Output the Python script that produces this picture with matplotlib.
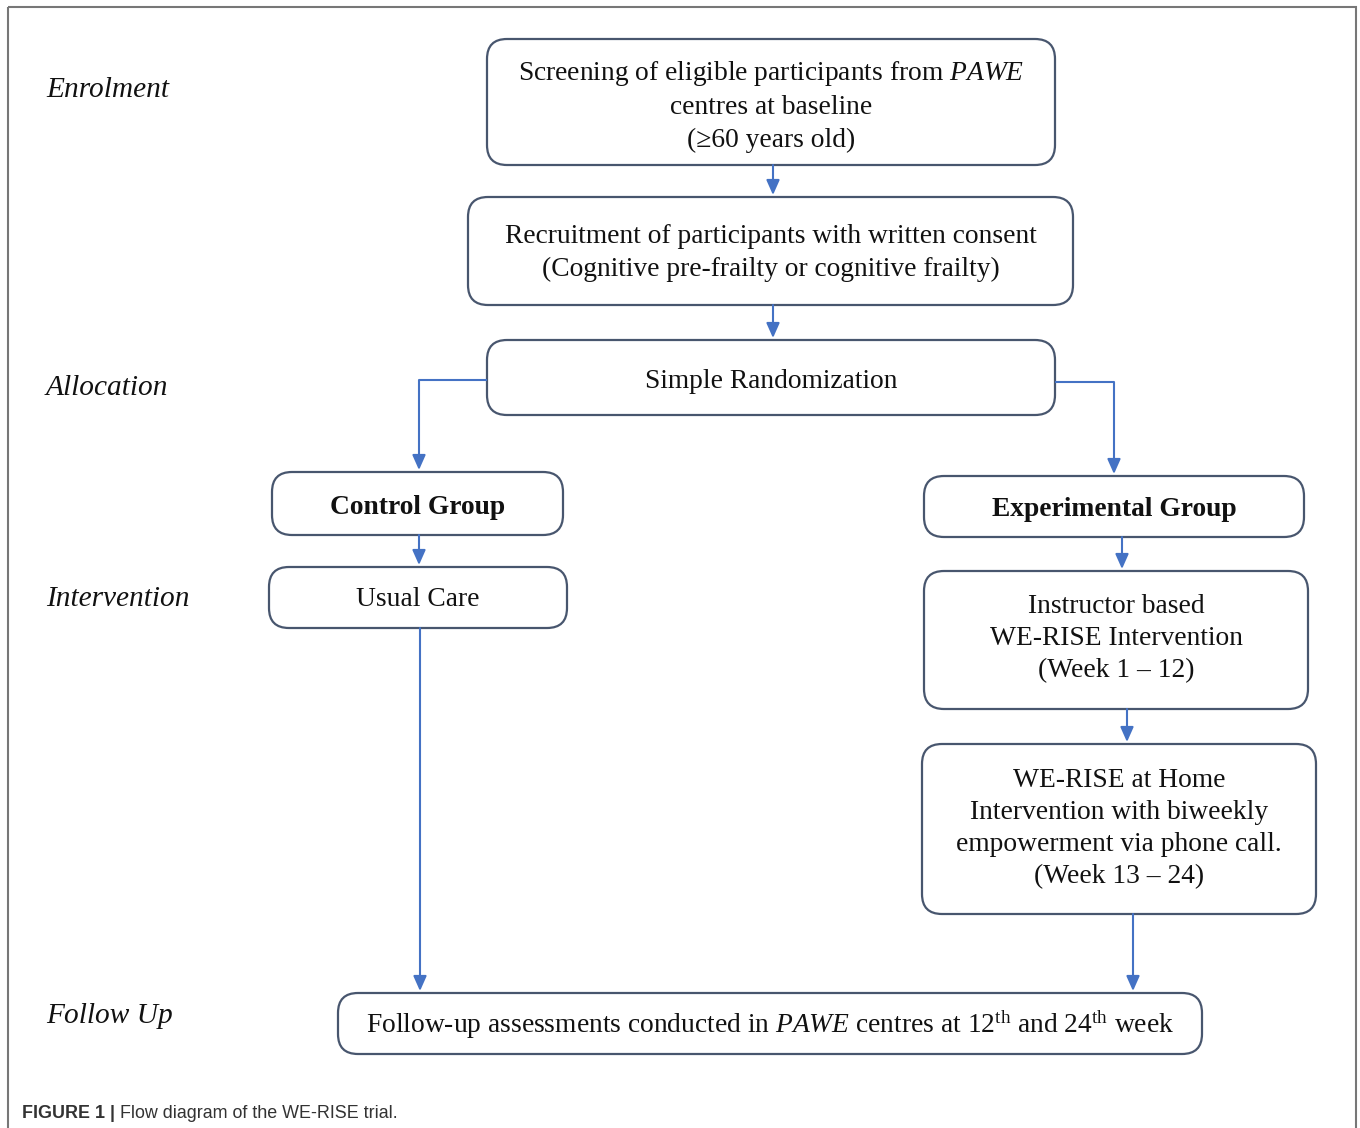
import matplotlib
matplotlib.use('Agg')
import matplotlib.pyplot as plt
from matplotlib.patches import FancyBboxPatch, Rectangle

plt.rcParams['font.family'] = ['Liberation Serif', 'DejaVu Serif']
plt.rcParams['mathtext.fontset'] = 'custom'
plt.rcParams['mathtext.rm'] = 'Liberation Serif'
plt.rcParams['mathtext.it'] = 'Liberation Serif:italic'
plt.rcParams['mathtext.bf'] = 'Liberation Serif:bold'

# stage labels on the left
stages = ['Enrolment', 'Allocation', 'Intervention', 'Follow Up']
stage_y = [90, 388, 599, 1016]

# box texts
box_texts = [
    'Screening of eligible participants from $\\mathit{PAWE}$\ncentres at baseline\n(\u226560 years old)',
    'Recruitment of participants with written consent\n(Cognitive pre-frailty or cognitive frailty)',
    'Simple Randomization',
    'Control Group',
    'Experimental Group',
    'Usual Care',
    'Instructor based\nWE-RISE Intervention\n(Week 1 \u2013 12)',
    'WE-RISE at Home\nIntervention with biweekly\nempowerment via phone call.\n(Week 13 \u2013 24)',
    'Follow-up assessments conducted in $\\mathit{PAWE}$ centres at 12$^{\\rm th}$ and 24$^{\\rm th}$ week',
]
box_bold = [False, False, False, True, True, False, False, False, False]
# x0, x1, y0, y1 in pixels
box_pos = [
    (487, 1055, 39, 165),
    (468, 1073, 197, 305),
    (487, 1055, 340, 415),
    (272, 563, 472, 535),
    (924, 1304, 476, 537),
    (269, 567, 567, 628),
    (924, 1308, 571, 709),
    (922, 1316, 744, 914),
    (338, 1202, 993, 1054),
]
box_text_y = [106, 253, 381, 508, 510, 600, 639, 829, 1025]

# connectors: list of polyline points, last segment gets an arrow head
arrows = [
    [(773, 165), (773, 195)],
    [(773, 305), (773, 338)],
    [(487, 380), (419, 380), (419, 470)],
    [(1055, 382), (1114, 382), (1114, 474)],
    [(419, 535), (419, 565)],
    [(1122, 537), (1122, 569)],
    [(1127, 709), (1127, 742)],
    [(420, 628), (420, 991)],
    [(1133, 914), (1133, 991)],
]

caption_bold = 'FIGURE 1 |'
caption_rest = ' Flow diagram of the WE-RISE trial.'

W, H = 1360, 1128
fig = plt.figure(figsize=(W / 100, H / 100), dpi=100)
ax = fig.add_axes([0, 0, 1, 1])
ax.set_xlim(0, W)
ax.set_ylim(H, 0)
ax.axis('off')

edge = '#48566e'
blue = '#4472c4'
ink = '#111111'

ax.add_patch(Rectangle((8, 7), 1348, 1140, fill=False, edgecolor='#777777', lw=1.5))

for (x0, x1, y0, y1), txt, b, ty in zip(box_pos, box_texts, box_bold, box_text_y):
    p = FancyBboxPatch((x0, y0), x1 - x0, y1 - y0,
                       boxstyle='round,pad=0,rounding_size=20',
                       facecolor='white', edgecolor=edge, lw=1.6)
    ax.add_patch(p)
    ax.text((x0 + x1) / 2, ty, txt, ha='center', va='center', fontsize=19.8,
            color=ink, fontweight='bold' if b else 'normal', linespacing=1.37)

for pts in arrows:
    xs = [p[0] for p in pts]
    ys = [p[1] for p in pts]
    ax.plot(xs[:-1], ys[:-1], color=blue, lw=1.5, solid_capstyle='butt')
    ax.annotate('', xy=pts[-1], xytext=pts[-2],
                arrowprops=dict(arrowstyle='-|>,head_length=0.9,head_width=0.4',
                                color=blue, lw=1.5, shrinkA=0, shrinkB=0))

for s, y in zip(stages, stage_y):
    ax.text(46, y, s, ha='left', va='center', fontsize=21.2, style='italic', color=ink)

t = ax.text(22, 1114, caption_bold, ha='left', va='center', fontsize=12.9,
            fontweight='bold', family='Liberation Sans', color='#333333')
fig.canvas.draw()
bb = t.get_window_extent()
x_end = ax.transData.inverted().transform((bb.x1, bb.y0))[0]
ax.text(x_end, 1114, caption_rest, ha='left', va='center', fontsize=12.9,
        family='Liberation Sans', color='#333333')

fig.savefig('out.png', dpi=100)
